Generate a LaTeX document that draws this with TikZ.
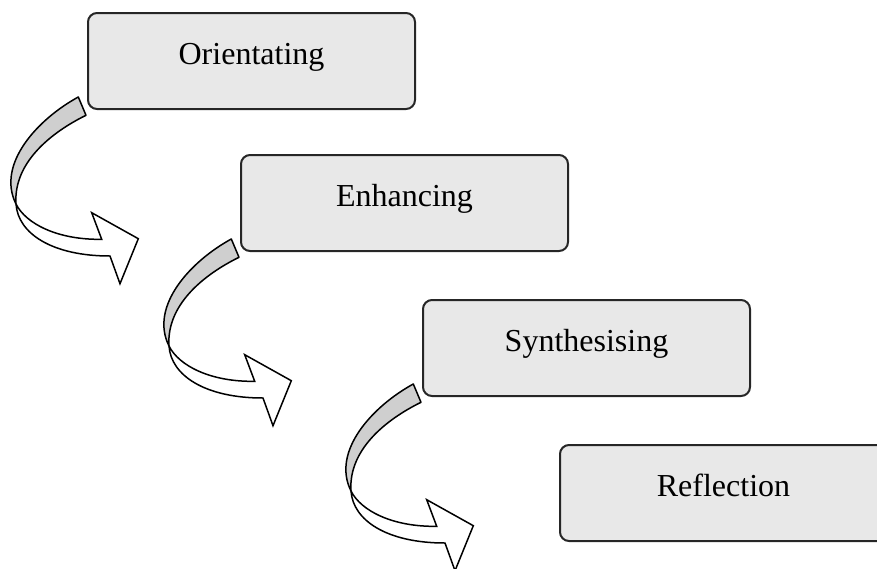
\documentclass[tikz,border=0pt]{standalone}
\usepackage{fontspec}
\setmainfont{Liberation Serif}
\usepackage{xcolor}
\usepackage{tikz}
\usetikzlibrary{positioning}

\tikzset{
    turnarrow/.pic={
        % back of the twisted band
        \filldraw[bandback] (-9.7,-12) .. controls (-50,10) and (-92,55) .. (-72,95)
            .. controls (-75,50) and (-30,20) .. (-2,6.3) -- cycle;
        % front of the band with the head
        \filldraw[bandfront] (-72,95) .. controls (-70,125) and (-35,147) .. (22,147)
            -- (32,174.7) -- (50.3,129.7) -- (3.7,103.7) -- (13.7,130.3)
            .. controls (-30,131) and (-62,115) .. (-72,95) -- cycle;
    }
}

\begin{document}
\begin{tikzpicture}[
    x=0.5pt, y=-0.5pt,
    every node/.style={font=\fontsize{16}{19}\selectfont},
    stage/.style={draw=black!85, line width=1pt, rounded corners=4.5pt, fill=black!9,
        minimum width=163.5pt, minimum height=48pt, outer sep=0pt,
        text height=0.55em, text depth=0.24em, anchor=north west},
    bandback/.style={fill=black!19, draw=black, line width=0.75pt, line join=round},
    bandfront/.style={fill=white, draw=black, line width=0.75pt, line join=miter}
]
\useasboundingbox (0,0) rectangle (877,568);

% Stages
\node[stage] (orient) at (88,13) {Orientating};
\node[stage, below=23pt of orient.south west, anchor=north west, xshift=76.5pt] (enhance) {Enhancing};
\node[stage, below=24.5pt of enhance.south west, anchor=north west, xshift=91pt] (synth) {Synthesising};
\node[stage, below=24.5pt of synth.south west, anchor=north west, xshift=68.5pt] (reflect) {Reflection};

% Turning arrows
\pic at (orient.south west) {turnarrow};
\pic at (enhance.south west) {turnarrow};
\pic at (synth.south west) {turnarrow};

\end{tikzpicture}
\end{document}
